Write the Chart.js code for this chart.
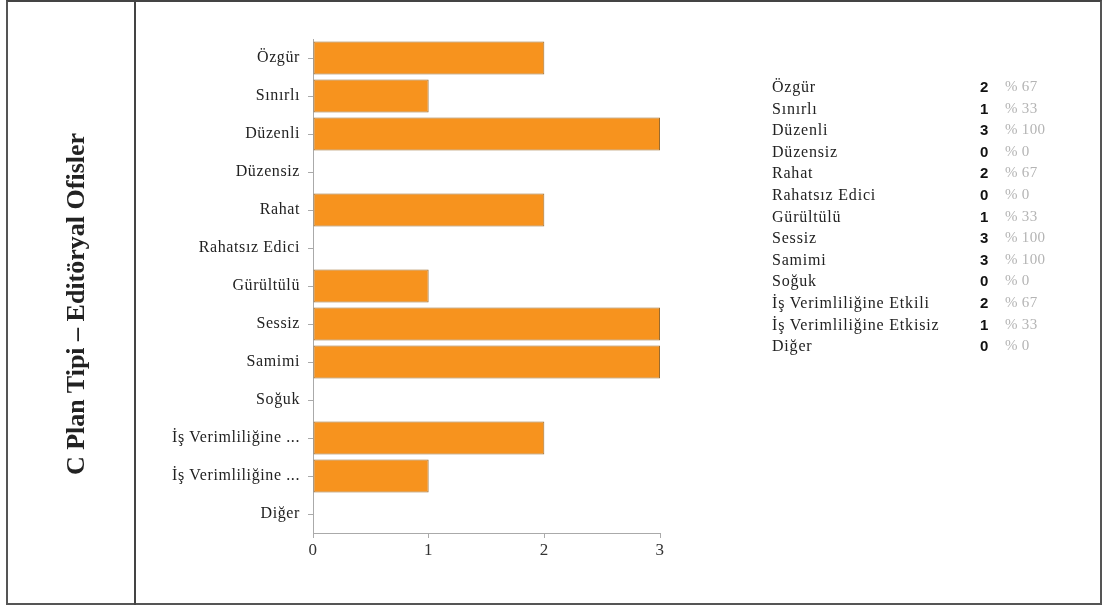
<!DOCTYPE html>
<html>
<head>
<meta charset="utf-8">
<script src="https://cdn.jsdelivr.net/npm/chart.js@4"></script>
<style>
  html, body { margin: 0; padding: 0; background: #fff; }
  body { width: 1103px; height: 608px; position: relative; overflow: hidden; }
  #frame { position: absolute; left: 6px; top: 0px; width: 1092px; height: 601px; border: 2px solid #555; border-top-color:#444; }
  #sep { position: absolute; left: 134px; top: 0px; width: 2px; height: 605px; background: #444; }
  #title { position: absolute; left: 76px; top: 304px; transform: translate(-50%, -50%) rotate(-90deg);
           font-family: "Liberation Serif", serif; font-weight: bold; font-size: 26px; color: #222; white-space: nowrap; }
  #wrap { position: absolute; left: 0; top: 0; width: 1103px; height: 608px; }
  #table { position: absolute; left: 772px; top: 76px; font-family: "Liberation Serif", serif; font-size: 16px; letter-spacing: 0.8px; color: #222; }
  .row { position: relative; height: 21.6px; line-height: 21px; white-space: nowrap; }
  .lab { position: absolute; left: 0; }
  .num { position: absolute; left: 208px; font-family: "Liberation Sans", Arial, sans-serif; font-weight: bold; font-size: 15px; letter-spacing: 0; color: #111; }
  .pct { position: absolute; left: 233px; color: #b4b4b4; font-size: 15px; letter-spacing: 0.3px; }
</style>
</head>
<body>
<div id="wrap"><canvas id="c" width="1103" height="608"></canvas></div>
<div id="frame"></div>
<div id="sep"></div>
<div id="title">C Plan Tipi – Editöryal Ofisler</div>
<div id="table"></div>
<script>
const categories = ["Özgür", "Sınırlı", "Düzenli", "Düzensiz", "Rahat", "Rahatsız Edici", "Gürültülü", "Sessiz", "Samimi", "Soğuk", "İş Verimliliğine Etkili", "İş Verimliliğine Etkisiz", "Diğer"];
const axisLabels = ["Özgür", "Sınırlı", "Düzenli", "Düzensiz", "Rahat", "Rahatsız Edici", "Gürültülü", "Sessiz", "Samimi", "Soğuk", "İş Verimliliğine ...", "İş Verimliliğine ...", "Diğer"];
const counts = [2, 1, 3, 0, 2, 0, 1, 3, 3, 0, 2, 1, 0];
const percents = [67, 33, 100, 0, 67, 0, 33, 100, 100, 0, 67, 33, 0];
const xTicks = [0, 1, 2, 3];

// side table
const tbl = document.getElementById('table');
categories.forEach((name, i) => {
  const r = document.createElement('div');
  r.className = 'row';
  r.innerHTML = '<span class="lab"></span><span class="num"></span><span class="pct"></span>';
  r.children[0].textContent = name;
  r.children[1].textContent = String(counts[i]);
  r.children[2].textContent = '% ' + percents[i];
  tbl.appendChild(r);
});

const spacing = {
  id: 'spacing',
  beforeLayout(chart) { chart.ctx.letterSpacing = '0.6px'; },
  beforeDraw(chart) { chart.ctx.letterSpacing = '0.6px'; }
};

new Chart(document.getElementById('c'), {
  type: 'bar',
  data: {
    labels: axisLabels,
    datasets: [{
      data: counts,
      backgroundColor: '#F7931E',
      borderColor: '#9A6B2E',
      borderWidth: 1,
      borderSkipped: false,
      categoryPercentage: 0.87,
      barPercentage: 1.0
    }]
  },
  plugins: [spacing],
  options: {
    indexAxis: 'y',
    responsive: false,
    animation: false,
    events: [],
    layout: { padding: { left: 140, top: 39, right: 443, bottom: 35 } },
    plugins: { legend: { display: false }, tooltip: { enabled: false }, title: { display: false } },
    scales: {
      x: {
        min: xTicks[0], max: xTicks[xTicks.length - 1],
        afterBuildTicks: (s) => { s.ticks = xTicks.map(v => ({ value: v })); },
        afterFit: (s) => { s.height = 40; },
        grid: { drawOnChartArea: false, drawTicks: true, tickLength: 5, color: '#aaa' },
        border: { display: true, color: '#aaa', width: 1 },
        ticks: { color: '#333', padding: 2, font: { family: 'Liberation Serif', size: 17 } }
      },
      y: {
        afterFit: (s) => { s.width = 173; },
        grid: { offset: false, drawOnChartArea: false, drawTicks: true, tickLength: 5, color: '#aaa' },
        border: { display: true, color: '#aaa', width: 1 },
        ticks: { color: '#222', padding: 8, autoSkip: false, font: { family: 'Liberation Serif', size: 16 } }
      }
    }
  }
});
</script>
</body>
</html>
